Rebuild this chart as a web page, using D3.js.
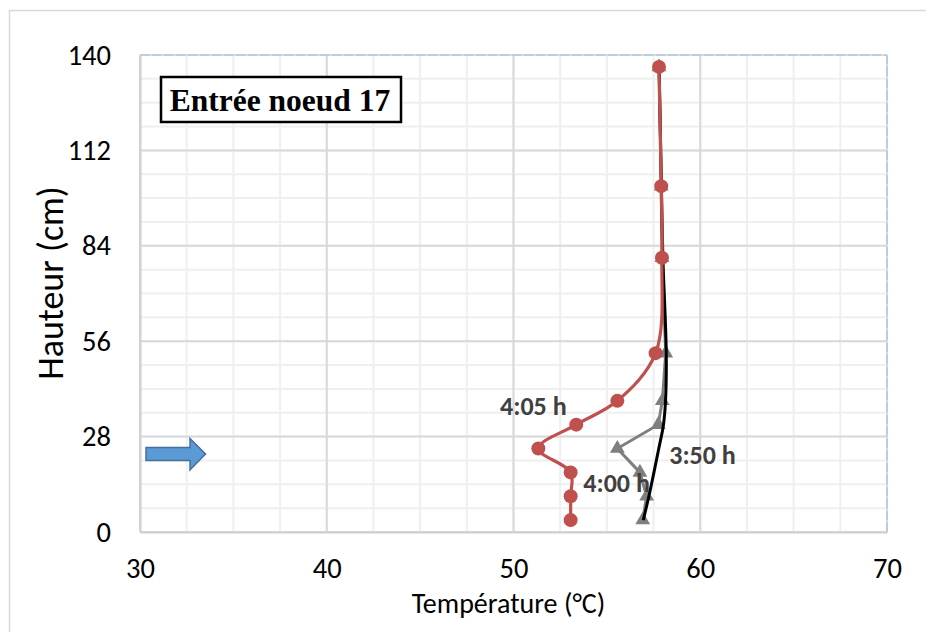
<!DOCTYPE html>
<html>
<head>
<meta charset="utf-8">
<script src="https://cdn.jsdelivr.net/npm/d3@7"></script>
<style>
  body { margin: 0; background: #fff; }
  svg { display: block; }
</style>
</head>
<body>
<div class="plot"></div>
<script>
// Sensor heights (cm) and temperatures (°C)
const heights = [3.5, 10.5, 17.5, 24.5, 31.5, 38.5, 52.5, 80.5, 101.5, 136.5];
const temp350 = [56.95, 57.25, 57.52, 57.78, 58.03, 58.14, 58.18, 58.0, 57.92, 57.8];
const temp400 = [56.92, 57.13, 56.77, 55.56, 57.75, 57.97, 58.15, 57.95, 57.91, 57.79];
const temp405 = [53.06, 53.06, 53.06, 51.33, 53.36, 55.56, 57.61, 57.95, 57.91, 57.79];
const xTicks = [30, 40, 50, 60, 70];
const yTicks = [0, 28, 56, 84, 112, 140];
const title = "Entrée noeud 17";

const W = 926, H = 632;
const margin = {top: 55, right: 39, bottom: 100, left: 140};

const svg = d3.select(".plot")
    .append("svg")
        .attr("width", W)
        .attr("height", H);

// outer chart frame
svg.append("rect")
    .attr("x", 9.5).attr("y", 10.5)
    .attr("width", 940).attr("height", 660)
    .attr("fill", "none")
    .attr("stroke", "#d9d9d9")
    .attr("stroke-width", 1.5);

const x = d3.scaleLinear().domain([30, 70]).range([margin.left, W - margin.right]);
const y = d3.scaleLinear().domain([0, 140]).range([H - margin.bottom, margin.top]);

// minor and major grid
const grid = svg.append("g");
grid.selectAll(".vminor")
    .data(d3.range(30, 70.01, 2.5))
    .enter().append("line")
        .attr("x1", d => x(d)).attr("x2", d => x(d))
        .attr("y1", y(0)).attr("y2", y(140))
        .attr("stroke", "#efefef").attr("stroke-width", 2);
grid.selectAll(".hminor")
    .data(d3.range(0, 140.01, 7))
    .enter().append("line")
        .attr("y1", d => y(d)).attr("y2", d => y(d))
        .attr("x1", x(30)).attr("x2", x(70))
        .attr("stroke", "#efefef").attr("stroke-width", 2);
grid.selectAll(".vmajor")
    .data(xTicks)
    .enter().append("line")
        .attr("x1", d => x(d)).attr("x2", d => x(d))
        .attr("y1", y(0)).attr("y2", y(140))
        .attr("stroke", "#d9d9d9").attr("stroke-width", 2);
grid.selectAll(".hmajor")
    .data(yTicks)
    .enter().append("line")
        .attr("y1", d => y(d)).attr("y2", d => y(d))
        .attr("x1", x(30)).attr("x2", x(70))
        .attr("stroke", "#d9d9d9").attr("stroke-width", 2);

// plot area edges: top/right light blue dashed, left/bottom gray
svg.append("line")
    .attr("x1", x(30)).attr("x2", x(70)).attr("y1", y(140)).attr("y2", y(140))
    .attr("stroke", "#b8cce4").attr("stroke-width", 2).attr("stroke-dasharray", "9,3");
svg.append("line")
    .attr("x1", x(70)).attr("x2", x(70)).attr("y1", y(140)).attr("y2", y(0))
    .attr("stroke", "#b8cce4").attr("stroke-width", 2).attr("stroke-dasharray", "9,3");

// axes
const font = "Carlito, Lato, 'Open Sans', sans-serif";
const xAxis = svg.append("g")
    .attr("transform", `translate(0,${y(0)})`)
    .call(d3.axisBottom(x).tickValues(xTicks).tickSize(0).tickPadding(28).tickFormat(d3.format("d")));
const yAxis = svg.append("g")
    .attr("transform", `translate(${x(30)},0)`)
    .call(d3.axisLeft(y).tickValues(yTicks).tickSize(0).tickPadding(29).tickFormat(d3.format("d")));
[xAxis, yAxis].forEach(a => {
    a.select(".domain").attr("stroke", "#d0d0d0").attr("stroke-width", 2);
    a.selectAll("text")
        .attr("fill", "#000")
        .style("font-family", font)
        .style("font-size", "28.5px");
});
xAxis.selectAll("text").attr("dy", "0.62em");

// axis titles
svg.append("text")
    .attr("x", (x(30) + x(70)) / 2 - 5)
    .attr("y", 613)
    .attr("text-anchor", "middle")
    .style("font-family", font)
    .style("font-size", "28px")
    .text("Température (°C)");
svg.append("text")
    .attr("transform", `translate(63,${283}) rotate(-90)`)
    .attr("text-anchor", "middle")
    .style("font-family", font)
    .style("font-size", "36px")
    .text("Hauteur (cm)");

// series
const pts = (temps) => heights.map((h, i) => [temps[i], h]);
const smooth = d3.line().x(d => x(d[0])).y(d => y(d[1])).curve(d3.curveCatmullRom.alpha(0.5));
const straight = d3.line().x(d => x(d[0])).y(d => y(d[1]));

// 4:00 h - gray triangles
svg.append("path")
    .attr("d", straight(pts(temp400)))
    .attr("fill", "none").attr("stroke", "#7f7f7f").attr("stroke-width", 3);
svg.selectAll(".tri")
    .data(pts(temp400))
    .enter().append("path")
        .attr("transform", d => `translate(${x(d[0])},${y(d[1])})`)
        .attr("d", d3.symbol().type(d3.symbolTriangle).size(95))
        .attr("fill", "#7f7f7f");

// 3:50 h - black smooth line
svg.append("path")
    .attr("d", smooth(pts(temp350)))
    .attr("fill", "none").attr("stroke", "#000").attr("stroke-width", 3);

// 4:05 h - red circles
svg.append("path")
    .attr("d", smooth(pts(temp405)))
    .attr("fill", "none").attr("stroke", "#c0504d").attr("stroke-width", 3.2);
svg.selectAll(".dot")
    .data(pts(temp405))
    .enter().append("circle")
        .attr("cx", d => x(d[0])).attr("cy", d => y(d[1]))
        .attr("r", 7)
        .attr("fill", "#c0504d");

// series labels
const labels = [
    {text: "4:05 h", t: 49.28, h: 34.3},
    {text: "3:50 h", t: 58.34, h: 20.0},
    {text: "4:00 h", t: 53.74, h: 11.8}
];
svg.selectAll(".lbl")
    .data(labels)
    .enter().append("text")
        .attr("x", d => x(d.t)).attr("y", d => y(d.h))
        .attr("fill", "#404040")
        .style("font-family", font)
        .style("font-weight", "bold")
        .style("font-size", "26px")
        .text(d => d.text);

// title box
svg.append("rect")
    .attr("x", 161).attr("y", 77)
    .attr("width", 240).attr("height", 45)
    .attr("fill", "#fff").attr("stroke", "#000").attr("stroke-width", 2.5);
svg.append("text")
    .attr("x", 280).attr("y", 110.5)
    .attr("text-anchor", "middle")
    .style("font-family", "'Liberation Serif', 'Times New Roman', serif")
    .style("font-weight", "bold")
    .style("font-size", "31.5px")
    .text(title);

// inlet arrow
const arrow = [[146, 447.5], [190, 447.5], [190, 438.5], [205.5, 454], [190, 470], [190, 460.5], [146, 460.5]];
svg.append("path")
    .attr("d", d3.line()(arrow) + "Z")
    .attr("fill", "#5b9bd5")
    .attr("stroke", "#41719c")
    .attr("stroke-width", 1.5);
</script>
</body>
</html>
